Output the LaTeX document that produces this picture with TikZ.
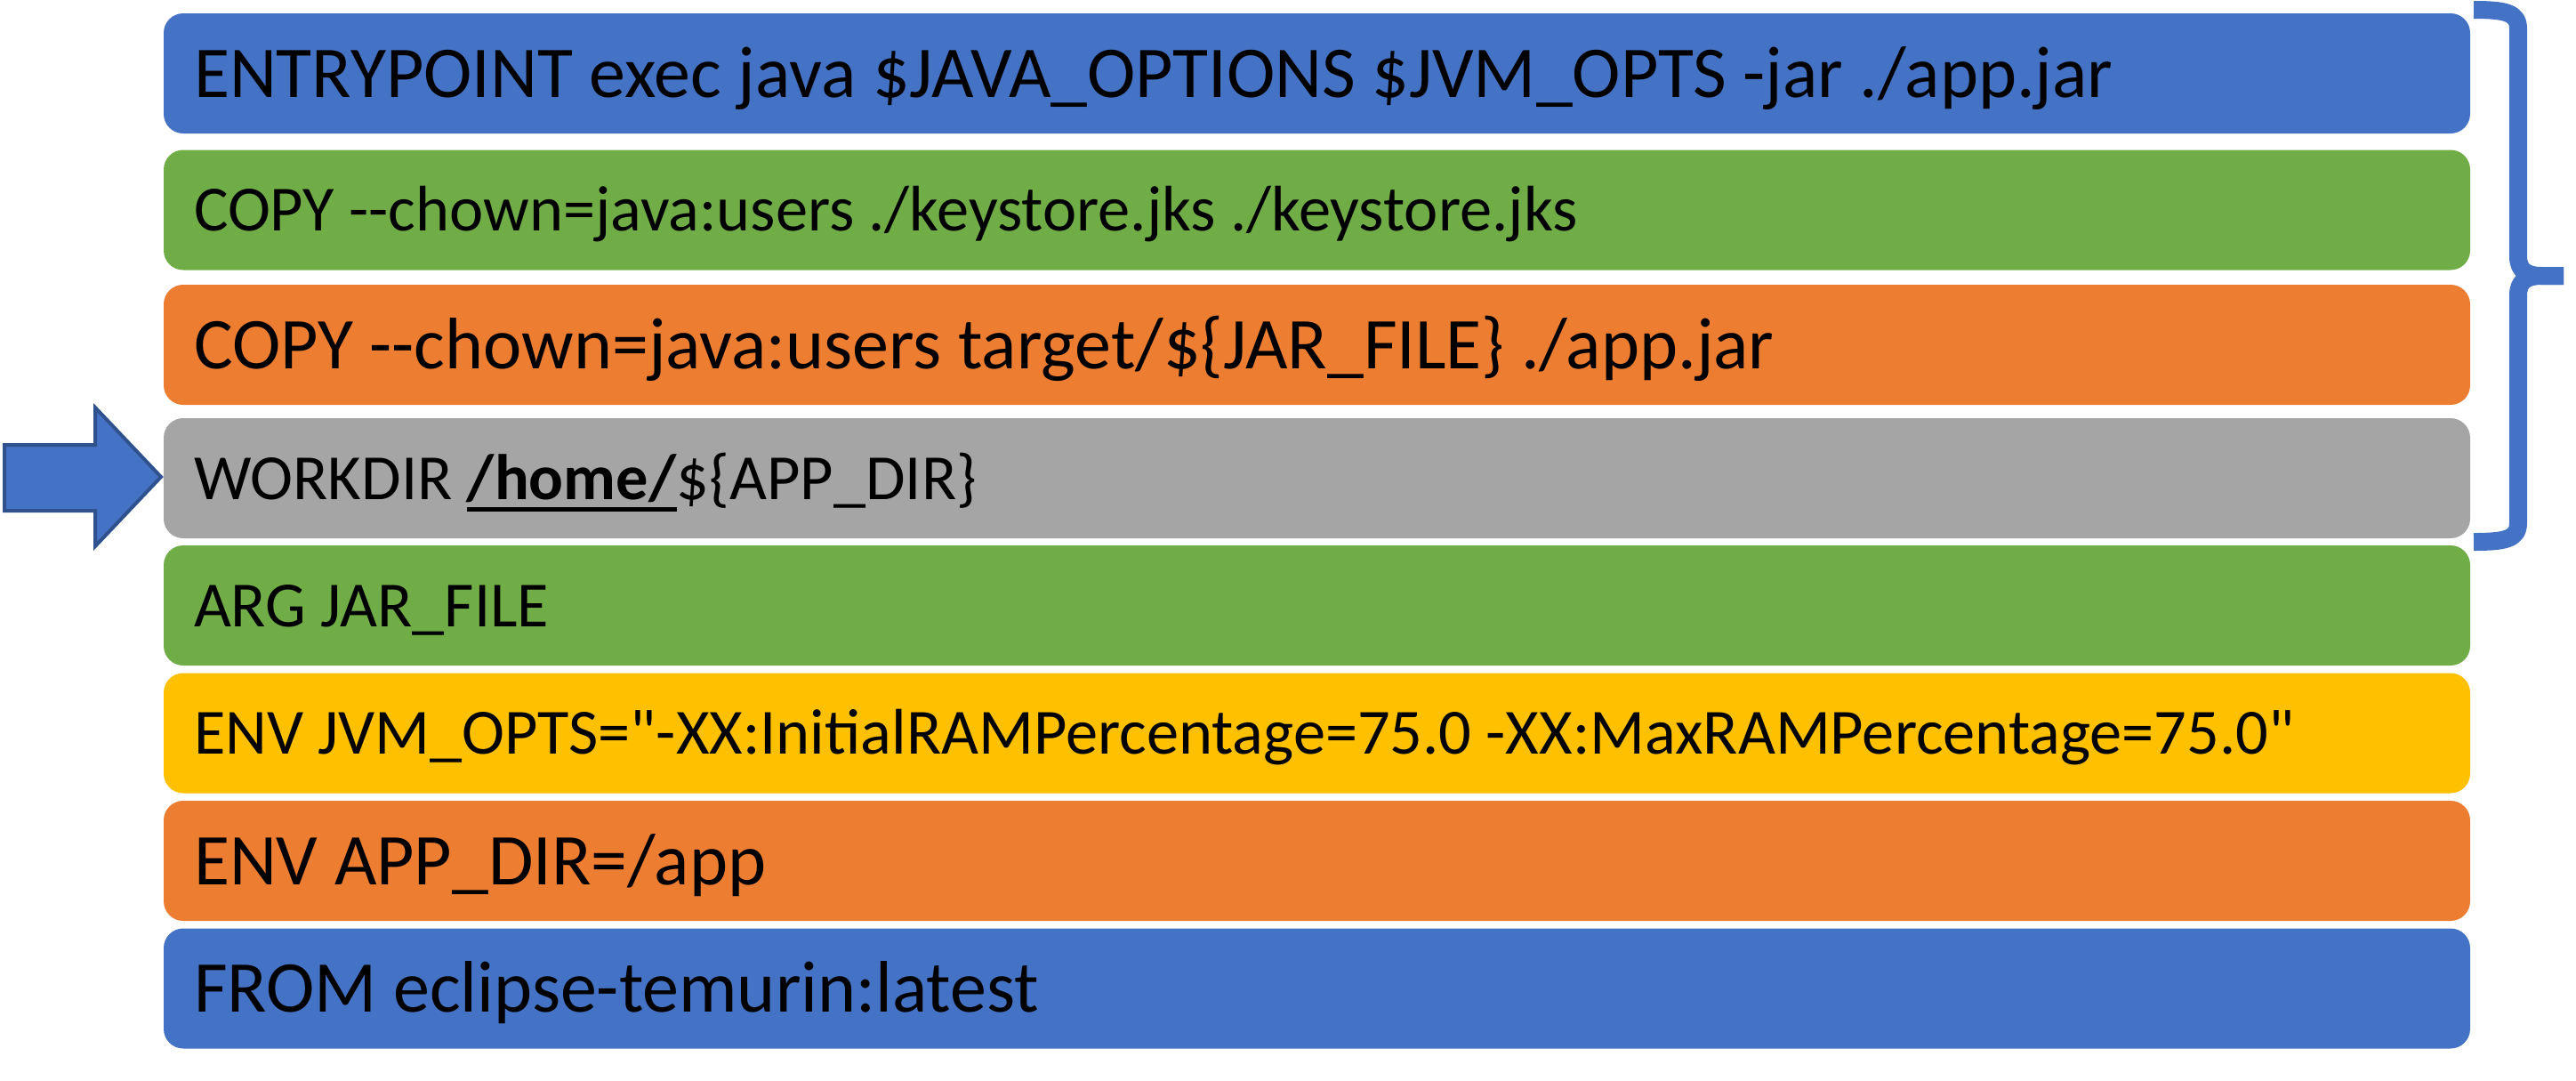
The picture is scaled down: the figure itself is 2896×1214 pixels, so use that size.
\documentclass[tikz,border=0pt]{standalone}
\usepackage{fontspec}
\setmainfont{Carlito}[Ligatures=TeXOff]
\definecolor{cblue}{HTML}{4472C4}
\definecolor{cgreen}{HTML}{70AD47}
\definecolor{corange}{HTML}{ED7D31}
\definecolor{cgray}{HTML}{A5A5A5}
\definecolor{cyellow}{HTML}{FFC000}
\definecolor{cdark}{HTML}{2F528F}
\newcommand\lgfont{\fontsize{20.5}{24}\selectfont}
\newcommand\smfont{\fontsize{18.1}{22}\selectfont}
\newcommand\ulbox[1]{\setbox0\hbox{#1}\rlap{\rule[-3.6pt]{\wd0}{1.25pt}}\box0}
\begin{document}
\begin{tikzpicture}[x=0.25pt,y=-0.25pt,
  bar/.style={rectangle, rounded corners=5.5pt, minimum width=648.25pt, minimum height=33.75pt, inner sep=0pt, outer sep=0pt, draw=none},
  lbl/.style={anchor=base west, inner sep=0pt, outer sep=0pt, text=black},
  lbig/.style={lbl, font=\lgfont},
  lsmall/.style={lbl, font=\smfont},
  brace/.style={draw=cblue, line width=5pt, line cap=butt, line join=round},
  blockarrow/.style={fill=cblue, draw=cdark, line width=1pt, line join=miter}]
\useasboundingbox (0,0) rectangle (2896,1214);

% bars
\node[bar, fill=cblue]   (r1) at (1480.5,82.5)  {};
\node[bar, fill=cgreen]  (r2) at (1480.5,236)   {};
\node[bar, fill=corange] (r3) at (1480.5,387.5) {};
\node[bar, fill=cgray]   (r4) at (1480.5,537.5) {};
\node[bar, fill=cgreen]  (r5) at (1480.5,680.5) {};
\node[bar, fill=cyellow] (r6) at (1480.5,824)   {};
\node[bar, fill=corange] (r7) at (1480.5,967.5) {};
\node[bar, fill=cblue]   (r8) at (1480.5,1111)  {};

% labels
\node[lbig]   (t1) at (218,109)    {ENTRYPOINT exec java \$JAVA\_OPTIONS \$JVM\_OPTS -jar ./app.jar};
\node[lsmall] (t2) at (218,259.5)  {COPY -{}-chown=java:users ./keystore.jks ./keystore.jks};
\node[lbig]   (t3) at (218,414)    {COPY -{}-chown=java:users target/\$\{JAR\_FILE\} ./app.jar};
\node[lsmall] (t4) at (218,561)    {WORKDIR \ulbox{\textbf{/home/}}\$\{APP\_DIR\}};
\node[lsmall] (t5) at (218,704)    {ARG JAR\_FILE};
\node[lsmall] (t6) at (218,847.5)  {ENV JVM\_OPTS="-XX:InitialRAMPercentage=75.0 -XX:MaxRAMPercentage=75.0"};
\node[lbig]   (t7) at (218,994)    {ENV APP\_DIR=/app};
\node[lbig]   (t8) at (218,1137.5) {FROM eclipse-temurin:latest};

% block arrow pointing at WORKDIR
\draw[blockarrow] (5,500) -- (107,500) -- (107,458) -- (181,536) -- (107,614) -- (107,574) -- (5,574) -- cycle;

% right brace
\coordinate (btop) at (2781,11);
\coordinate (btip) at (2882,310);
\coordinate (bbot) at (2781,609);
\draw[brace] (btop) .. controls (2816,11) and (2831,14) .. (2831,32) -- (2831,288) .. controls (2831,304) and (2840,310) .. (2858,310) -- (btip);
\draw[brace] (btip) -- (2858,310) .. controls (2840,310) and (2831,316) .. (2831,332) -- (2831,588) .. controls (2831,606) and (2816,609) .. (bbot);
\end{tikzpicture}
\end{document}
